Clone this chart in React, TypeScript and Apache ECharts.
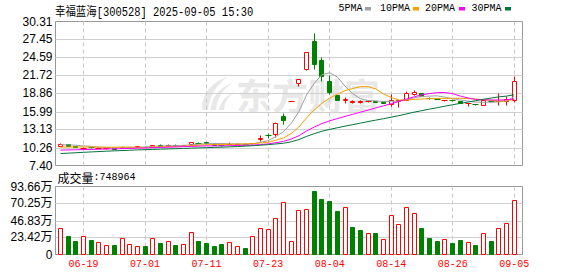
import React, { useEffect, useRef } from 'react';
import * as echarts from 'echarts';

// ---------------- data ----------------
const dates = [
  '06-16', '06-17', '06-18', '06-19', '06-20', '06-23', '06-24', '06-25', '06-26', '06-27',
  '06-30', '07-01', '07-02', '07-03', '07-04', '07-07', '07-08', '07-09', '07-10', '07-11',
  '07-14', '07-15', '07-16', '07-17', '07-18', '07-21', '07-22', '07-23', '07-24', '07-25',
  '07-28', '07-29', '07-30', '07-31', '08-01', '08-04', '08-05', '08-06', '08-07', '08-08',
  '08-11', '08-12', '08-13', '08-14', '08-15', '08-18', '08-19', '08-20', '08-21', '08-22',
  '08-25', '08-26', '08-27', '08-28', '08-29', '09-01', '09-02', '09-03', '09-04', '09-05',
];

const opens = [
  10.55, 10.80, 10.45, 10.15, 10.33, 10.20, 10.12, 10.16, 10.25, 10.30,
  10.38, 10.40, 10.38, 10.64, 10.56, 10.60, 10.55, 10.75, 11.05, 11.08,
  10.90, 10.70, 10.82, 10.85, 10.88, 10.92, 11.68, 12.30, 12.40, 15.30,
  17.63, 20.45, 22.72, 27.18, 24.15, 20.81, 18.59, 17.75, 17.55, 17.55,
  17.62, 17.68, 17.55, 17.26, 17.72, 17.90, 18.70, 18.90, 18.15, 18.05,
  17.76, 17.82, 17.63, 17.30, 17.17, 17.10, 17.70, 17.60, 17.68, 17.90,
];
const closes = [
  10.85, 10.50, 10.36, 10.22, 10.28, 10.26, 10.18, 10.10, 10.34, 10.35,
  10.44, 10.36, 10.70, 10.58, 10.62, 10.55, 10.60, 11.12, 11.00, 11.04,
  10.68, 10.66, 10.88, 10.90, 10.84, 10.98, 11.80, 12.20, 14.24, 14.69,
  17.63, 21.16, 25.39, 23.47, 21.61, 19.15, 17.85, 17.95, 17.62, 17.60,
  17.68, 17.55, 17.42, 17.79, 17.80, 18.86, 19.02, 18.43, 18.10, 18.00,
  17.80, 17.78, 17.36, 17.33, 17.12, 17.79, 17.65, 17.70, 18.02, 20.80,
];
const lows = [
  10.48, 10.45, 10.30, 10.05, 10.15, 10.12, 10.08, 10.05, 10.18, 10.25,
  10.32, 10.30, 10.34, 10.48, 10.50, 10.48, 10.50, 10.72, 10.95, 10.95,
  10.62, 10.58, 10.78, 10.80, 10.78, 10.86, 11.30, 11.80, 11.95, 13.97,
  17.63, 20.02, 22.60, 22.80, 20.86, 18.80, 17.80, 17.36, 17.40, 17.35,
  17.55, 17.45, 17.35, 16.83, 16.63, 17.85, 18.58, 18.38, 17.95, 17.95,
  17.72, 17.72, 17.30, 16.85, 17.08, 17.05, 17.60, 17.04, 17.10, 17.52,
];
const highs = [
  10.98, 10.86, 10.48, 10.28, 10.40, 10.30, 10.22, 10.20, 10.45, 10.40,
  10.48, 10.44, 10.74, 10.75, 10.80, 10.78, 10.66, 11.20, 11.10, 11.15,
  10.92, 10.74, 11.10, 10.95, 10.92, 11.05, 12.25, 12.60, 14.30, 15.77,
  17.63, 21.16, 25.39, 28.45, 24.68, 21.80, 18.65, 18.31, 17.85, 17.80,
  17.78, 17.72, 17.60, 18.75, 17.85, 19.27, 19.49, 18.95, 18.30, 18.08,
  17.84, 17.85, 17.66, 17.35, 17.20, 17.82, 17.75, 18.88, 18.50, 21.60,
];

// volume in 万 (10k)
const volumes = [
  36.6, 26.1, 19.2, 25.6, 20.6, 17.4, 13.3, 13.7, 22.9, 14.6,
  11.9, 12.3, 22.9, 16.5, 18.7, 13.7, 14.6, 31.1, 19.2, 16.5,
  12.3, 15.1, 17.4, 12.3, 9.6, 25.6, 36.6, 35.2, 50.7, 72.2,
  18.7, 61.3, 63.1, 87.8, 75.9, 74.1, 60.3, 65.4, 38.4, 34.3,
  29.7, 30.2, 21.5, 54.4, 42.1, 65.4, 57.1, 37.0, 23.3, 19.2,
  21.5, 16.5, 20.1, 17.4, 13.7, 29.7, 19.2, 36.6, 43.5, 74.8964,
];
// 1 = red (hollow) volume bar, 0 = green
const volumeUp = [
  1, 0, 0, 1, 0, 1, 1, 0, 1, 1,
  1, 0, 1, 0, 1, 0, 1, 1, 0, 0,
  0, 0, 1, 1, 0, 1, 1, 1, 1, 1,
  1, 1, 1, 0, 0, 0, 0, 1, 0, 0,
  1, 0, 1, 1, 1, 1, 1, 0, 0, 0,
  1, 0, 0, 1, 0, 1, 0, 1, 1, 1,
];

const ma5 = [
  10.70, 10.68, 10.62, 10.52, 10.44, 10.32, 10.26, 10.21, 10.23, 10.25,
  10.28, 10.32, 10.44, 10.49, 10.54, 10.56, 10.61, 10.69, 10.78, 10.86,
  10.89, 10.90, 10.85, 10.83, 10.79, 10.85, 11.08, 11.34, 12.01, 12.78,
  14.11, 15.98, 18.62, 20.47, 21.85, 22.16, 21.49, 20.01, 18.84, 18.03,
  17.74, 17.68, 17.57, 17.61, 17.65, 17.88, 18.18, 18.38, 18.44, 18.48,
  18.27, 18.02, 17.81, 17.65, 17.48, 17.48, 17.45, 17.52, 17.66, 18.39,
];
const ma10 = [
  10.32, 10.34, 10.35, 10.35, 10.34, 10.33, 10.32, 10.32, 10.33, 10.34,
  10.30, 10.29, 10.32, 10.36, 10.39, 10.42, 10.46, 10.57, 10.63, 10.70,
  10.73, 10.76, 10.77, 10.81, 10.83, 10.87, 10.99, 11.10, 11.42, 11.79,
  12.48, 13.53, 14.98, 16.24, 17.32, 18.13, 18.74, 19.31, 19.65, 19.94,
  19.95, 19.59, 18.79, 18.22, 17.84, 17.81, 17.93, 17.98, 18.03, 18.07,
  18.08, 18.10, 18.09, 18.05, 17.98, 17.87, 17.74, 17.66, 17.66, 17.94,
];
const ma20 = [
  9.85, 9.88, 9.90, 9.93, 9.96, 9.99, 10.02, 10.05, 10.08, 10.11,
  10.15, 10.19, 10.23, 10.27, 10.31, 10.35, 10.40, 10.44, 10.48, 10.52,
  10.51, 10.52, 10.55, 10.58, 10.61, 10.65, 10.73, 10.83, 11.03, 11.24,
  11.60, 12.14, 12.88, 13.52, 14.07, 14.50, 14.86, 15.21, 15.54, 15.87,
  16.22, 16.56, 16.89, 17.23, 17.58, 17.97, 18.33, 18.65, 18.84, 19.00,
  19.01, 18.84, 18.44, 18.14, 17.91, 17.84, 17.83, 17.82, 17.84, 18.00,
];
const ma30 = [
  9.30, 9.36, 9.43, 9.50, 9.56, 9.62, 9.68, 9.73, 9.78, 9.83,
  9.88, 9.92, 9.96, 10.00, 10.04, 10.08, 10.12, 10.16, 10.20, 10.24,
  10.28, 10.32, 10.37, 10.42, 10.48, 10.55, 10.63, 10.72, 10.83, 10.94,
  11.17, 11.53, 12.03, 12.47, 12.85, 13.14, 13.40, 13.66, 13.90, 14.14,
  14.39, 14.62, 14.85, 15.09, 15.33, 15.61, 15.89, 16.13, 16.37, 16.60,
  16.84, 17.07, 17.29, 17.50, 17.71, 17.94, 18.13, 18.32, 18.44, 18.65,
];

const priceTicks = [7.40, 10.26, 13.13, 15.99, 18.86, 21.72, 24.59, 27.45, 30.31];
const volumeTicks = [0, 23.42, 46.83, 70.25, 93.66];
const dateTickIndices = [3, 11, 19, 27, 35, 43, 51, 59];

const maNames = ['5PMA', '10PMA', '20PMA', '30PMA'];
const maColors = ['#a0a0a0', '#f5a000', '#ff00ff', '#00763a'];

const titleText = '幸福蓝海[300528] 2025-09-05 15:30';
const volumeTitle = '成交量';
const volumeLast = ':748964';
const watermarkText = '东方财富';

// ---------------- drawing helpers ----------------
const RED = '#ff0000';
const GREEN = '#008000';
const X_MIN = -0.65;
const X_MAX = 60.08;

const LOGO_PATH =
  'M4 38 C 2 24, 12 8, 32 2 C 20 10, 12 22, 10 38 Z ' +
  'M13 38 C 13 26, 22 14, 38 8 C 26 16, 20 26, 19 38 Z ' +
  'M22 38 C 24 30, 30 22, 40 18 C 32 24, 28 30, 28 38 Z';
echarts.graphic.registerShape('dcLogo', echarts.graphic.extendPath(LOGO_PATH, {}) as any);

const snapX = (x: number) => Math.floor(x) + 0.5;
const snapY = (y: number) => Math.round(y) + 0.5;

function renderCandle(_params: any, api: any) {
  const i = api.value(0);
  const o = api.value(1);
  const c = api.value(2);
  const l = api.value(3);
  const h = api.value(4);
  const prev = i > 0 ? closes[i - 1] : o;
  const up = c > o || (c === o && c >= prev);
  const color = up ? RED : GREEN;
  const cx = snapX(api.coord([i, o])[0]);
  const yo = api.coord([i, o])[1];
  const yc = api.coord([i, c])[1];
  const top = snapY(Math.min(yo, yc));
  const bot = snapY(Math.max(yo, yc));
  const yH = snapY(api.coord([i, h])[1]);
  const yL = snapY(api.coord([i, l])[1]);
  const children: any[] = [];
  if (yH < top) children.push({ type: 'line', shape: { x1: cx, y1: yH, x2: cx, y2: top }, style: { stroke: color, lineWidth: 1 } });
  if (yL > bot) children.push({ type: 'line', shape: { x1: cx, y1: bot, x2: cx, y2: yL }, style: { stroke: color, lineWidth: 1 } });
  if (bot - top < 1) {
    children.push({ type: 'line', shape: { x1: cx - 3, y1: top, x2: cx + 3, y2: top }, style: { stroke: color, lineWidth: 1 } });
  } else {
    children.push({
      type: 'rect',
      shape: { x: cx - 2, y: top, width: 4, height: bot - top },
      style: { fill: up ? '#ffffff' : color, stroke: color, lineWidth: 1 },
    });
  }
  return { type: 'group', children };
}

function renderVolume(_params: any, api: any) {
  const i = api.value(0);
  const v = api.value(1);
  const up = api.value(2) === 1;
  const color = up ? RED : GREEN;
  const base = api.coord([i, 0]);
  const topP = api.coord([i, v]);
  const cx = snapX(base[0]);
  const y0 = snapY(topP[1]);
  const y1 = snapY(base[1]) - 1;
  return {
    type: 'rect',
    shape: { x: cx - 2, y: y0, width: 4, height: Math.max(0, y1 - y0) },
    style: { fill: up ? '#ffffff' : color, stroke: color, lineWidth: 1 },
  };
}

const hLine = (color: string) => (params: any, api: any) => {
  const cs = params.coordSys;
  const y = snapY(api.coord([0, api.value(1)])[1]);
  return { type: 'line', shape: { x1: cs.x, y1: y, x2: cs.x + cs.width, y2: y }, style: { stroke: color, lineWidth: 1 } };
};
const vLine = (color: string) => (params: any, api: any) => {
  const cs = params.coordSys;
  const x = snapX(api.coord([api.value(0), api.value(1)])[0]);
  return {
    type: 'line',
    shape: { x1: x, y1: cs.y, x2: x, y2: cs.y + cs.height },
    style: { stroke: color, lineWidth: 1, lineDash: [4, 3] },
  };
};

function buildOption(): any {
  const candleData = dates.map((_, i) => [i, opens[i], closes[i], lows[i], highs[i]]);
  const volumeData = dates.map((_, i) => [i, volumes[i], volumeUp[i]]);
  const maSeries = [ma5, ma10, ma20, ma30].map((arr, k) => ({
    name: maNames[k],
    type: 'line',
    xAxisIndex: 0,
    yAxisIndex: 0,
    data: arr.map((v, i) => [i, v]),
    symbol: 'none',
    showSymbol: false,
    silent: true,
    z: 4,
    lineStyle: { width: 1, color: maColors[k] },
  }));

  const legendGraphics: any[] = [];
  const legendTextX = [338.5, 380, 425, 471.5];
  const legendSwatchX = [365, 413, 459, 505];
  maNames.forEach((n, k) => {
    legendGraphics.push({
      type: 'text', x: legendTextX[k], y: 8.5, z: 10,
      style: { text: n, font: "10px 'Liberation Mono', monospace", fill: '#000', textAlign: 'left', textVerticalAlign: 'middle', align: 'left', verticalAlign: 'middle' },
    });
    legendGraphics.push({
      type: 'rect', x: legendSwatchX[k], y: 7, z: 10,
      shape: { x: 0, y: 0, width: 6, height: 3.5 },
      style: { fill: maColors[k] },
    });
  });

  const axisCommonX = {
    type: 'value',
    min: X_MIN,
    max: X_MAX,
    axisLine: { show: false },
    splitLine: { show: false },
  };

  return {
    animation: false,
    backgroundColor: '#ffffff',
    grid: [
      { left: 55.5, top: 21.5, width: 467, height: 144, show: true, borderColor: '#999999', borderWidth: 1, backgroundColor: 'transparent', z: 0 },
      { left: 55.5, top: 186.5, width: 467, height: 68, show: true, borderColor: '#999999', borderWidth: 1, backgroundColor: 'transparent', z: 0 },
    ],
    xAxis: [
      { ...axisCommonX, gridIndex: 0, axisTick: { show: false }, axisLabel: { show: false } },
      {
        ...axisCommonX,
        gridIndex: 1,
        axisTick: { show: false, customValues: dateTickIndices },
        axisLabel: {
          show: true,
          customValues: dateTickIndices,
          formatter: (v: number) => dates[Math.round(v)],
          color: RED,
          fontFamily: "'Liberation Mono', monospace",
          fontSize: 10,
          margin: 5,
        },
      },
    ],
    yAxis: [
      {
        type: 'value', gridIndex: 0, min: priceTicks[0], max: priceTicks[priceTicks.length - 1],
        axisLine: { show: false }, splitLine: { show: false },
        axisTick: { show: false, customValues: priceTicks },
        axisLabel: {
          customValues: priceTicks,
          formatter: (v: number) => v.toFixed(2),
          color: '#000', fontSize: 12, fontFamily: "'Liberation Sans', Arial, sans-serif", margin: 3,
          showMinLabel: true, showMaxLabel: true,
        },
      },
      {
        type: 'value', gridIndex: 1, min: 0, max: volumeTicks[volumeTicks.length - 1],
        axisLine: { show: false }, splitLine: { show: false },
        axisTick: { show: false, customValues: volumeTicks },
        axisLabel: {
          customValues: volumeTicks,
          formatter: (v: number) => (v === 0 ? '0' : v.toFixed(2) + '万'),
          color: '#000', fontSize: 12, fontFamily: "'Liberation Sans', 'Noto Sans CJK SC', sans-serif", margin: 3,
          showMinLabel: true, showMaxLabel: true,
        },
      },
    ],
    graphic: [
      {
        type: 'dcLogo', x: 199, y: 75, scaleX: 0.9, scaleY: 0.92, z: 0,
        style: { fill: '#e8e8e8' },
      },
      {
        type: 'text', x: 236, y: 93.5, z: 0,
        style: {
          text: watermarkText, font: "bold 36px 'Noto Sans CJK SC', sans-serif", fill: '#e8e8e8',
          textAlign: 'left', textVerticalAlign: 'middle', align: 'left', verticalAlign: 'middle',
        },
      },
      {
        type: 'text', x: 55, y: 12.5, z: 10, scaleX: 0.87,
        style: {
          text: titleText, font: "12px 'Liberation Mono', 'Noto Sans CJK SC', monospace", fill: '#000',
          textAlign: 'left', textVerticalAlign: 'middle', align: 'left', verticalAlign: 'middle',
        },
      },
      {
        type: 'text', x: 57.5, y: 177.5, z: 10,
        style: {
          text: '{a|' + volumeTitle + '}{b|' + volumeLast + '}',
          fill: '#000',
          textAlign: 'left', textVerticalAlign: 'middle', align: 'left', verticalAlign: 'middle',
          rich: {
            a: { fontSize: 12, fontFamily: "'Noto Sans CJK SC', sans-serif", fill: '#000' },
            b: { fontSize: 10, fontFamily: "'Liberation Mono', monospace", fill: '#000' },
          },
        },
      },
      ...legendGraphics,
    ],
    series: [
      {
        type: 'custom', name: 'priceGridH', xAxisIndex: 0, yAxisIndex: 0, z: 1, silent: true,
        encode: { x: 0, y: 1 },
        data: priceTicks.slice(1, -1).map((v) => [0, v]),
        renderItem: hLine('#d0d0d0'),
      },
      {
        type: 'custom', name: 'priceGridV', xAxisIndex: 0, yAxisIndex: 0, z: 1, silent: true,
        encode: { x: 0, y: 1 },
        data: dateTickIndices.map((i) => [i, priceTicks[0]]),
        renderItem: vLine('#c8c8c8'),
      },
      {
        type: 'custom', name: 'volGridH', xAxisIndex: 1, yAxisIndex: 1, z: 1, silent: true,
        encode: { x: 0, y: 1 },
        data: volumeTicks.slice(1, -1).map((v) => [0, v]),
        renderItem: hLine('#d0d0d0'),
      },
      {
        type: 'custom', name: 'volGridV', xAxisIndex: 1, yAxisIndex: 1, z: 1, silent: true,
        encode: { x: 0, y: 1 },
        data: dateTickIndices.map((i) => [i, 0]),
        renderItem: vLine('#c8c8c8'),
      },
      {
        type: 'custom', name: 'K', xAxisIndex: 0, yAxisIndex: 0, z: 3, silent: true,
        encode: { x: 0, y: [1, 2, 3, 4] },
        data: candleData,
        renderItem: renderCandle,
      },
      ...maSeries,
      {
        type: 'custom', name: '成交量', xAxisIndex: 1, yAxisIndex: 1, z: 3, silent: true,
        encode: { x: 0, y: 1 },
        data: volumeData,
        renderItem: renderVolume,
      },
    ],
  };
}

export default function App() {
  const ref = useRef<HTMLDivElement | null>(null);
  useEffect(() => {
    if (!ref.current) return;
    const chart = echarts.init(ref.current, undefined, { renderer: 'svg' });
    chart.setOption(buildOption());
    return () => chart.dispose();
  }, []);
  return (
    <div
      ref={ref}
      style={{ position: 'fixed', left: 0, top: 0, width: 578, height: 276, background: '#ffffff' }}
    />
  );
}
